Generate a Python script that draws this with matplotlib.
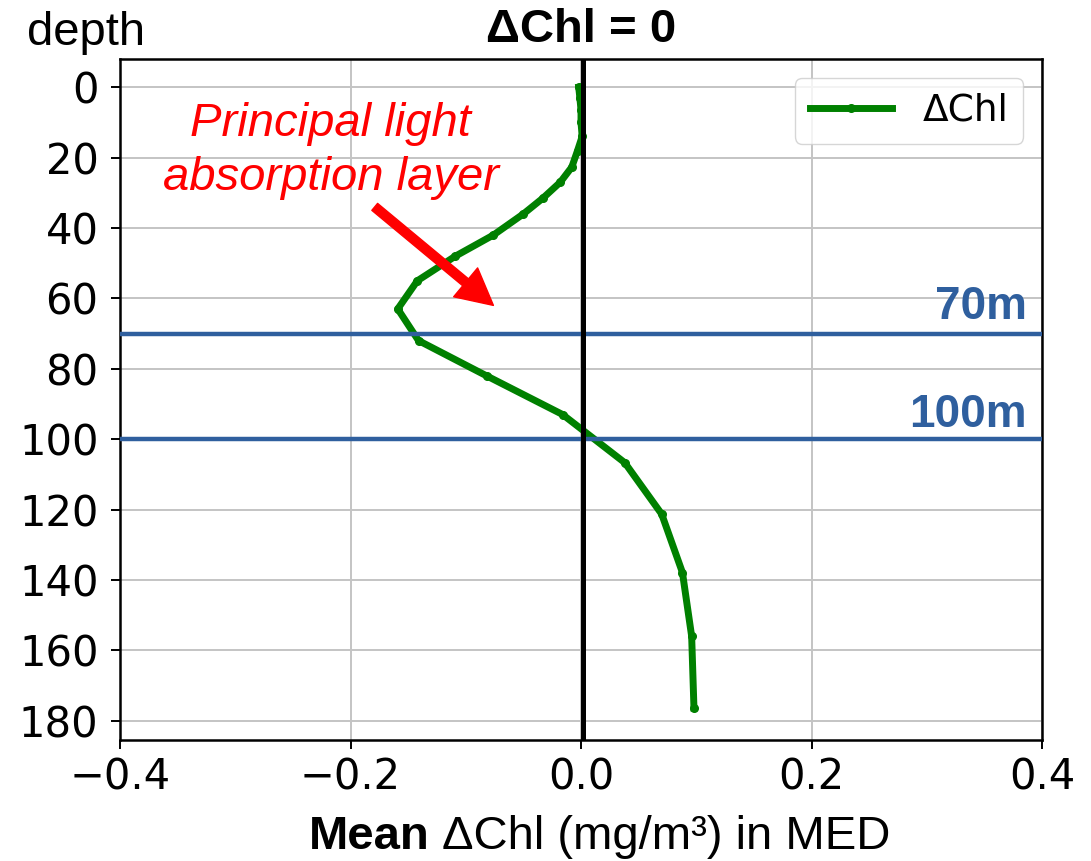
import matplotlib
matplotlib.use("Agg")
import matplotlib.pyplot as plt

# mean delta-Chl profile (mg/m3) vs depth (m)
depth = [0, 3, 6.5, 10, 14, 18, 22.7, 27, 31.5, 36, 42, 48, 55, 63,
         72, 82, 93, 106.7, 121.3, 137.9, 156, 176.4]
dchl = [-0.002, -0.001, 0.0, 0.0, 0.001, -0.003, -0.008, -0.018, -0.033,
        -0.050, -0.076, -0.109, -0.142, -0.159, -0.141, -0.082, -0.016,
        0.038, 0.070, 0.088, 0.096, 0.098]

ref_depths = [70, 100]
ref_labels = ["70m", "100m"]
ref_label_y = [66, 96.5]

xticks = [-0.4, -0.2, 0.0, 0.2, 0.4]
yticks = list(range(0, 181, 20))

ANNOT_FONT = ["Liberation Sans", "DejaVu Sans"]
BLUE = "#2f5f9e"

fig = plt.figure(figsize=(10.91, 8.61), dpi=100)
ax = fig.add_axes([0.1100, 0.1405, 0.8451, 0.7909])

ax.grid(True, color="#c4c4c4", linewidth=1.4)
ax.set_axisbelow(True)

ax.plot(dchl, depth, color="green", linewidth=5, marker="o",
        markersize=5.5, label="ΔChl")

ax.axvline(0.002, color="black", linewidth=3.6, zorder=4)

for d, lab, ly in zip(ref_depths, ref_labels, ref_label_y):
    ax.axhline(d, color=BLUE, linewidth=3.2, zorder=3)
    ax.text(0.387, ly, lab, color=BLUE, fontsize=33, fontweight="bold",
            family=ANNOT_FONT, ha="right", va="baseline")

ax.set_xlim(-0.4, 0.4)
ax.set_ylim(185.5, -8)
ax.set_xticks(xticks)
ax.set_yticks(yticks)
ax.tick_params(labelsize=30, length=6.5, width=1.4)
ax.tick_params(axis="y", pad=9)
ax.tick_params(axis="x", pad=5)
for s in ax.spines.values():
    s.set_linewidth(1.8)

ax.legend(loc="upper right", fontsize=27, handlelength=2.2,
          borderaxespad=0.5, framealpha=0.8)

# annotation text and arrow
ax.text(-0.217, 29.2, "Principal light\nabsorption layer", color="red",
        fontsize=34, style="italic", family=ANNOT_FONT, ha="center",
        va="baseline", linespacing=1.28)
ax.annotate("", xy=(-0.076, 62), xytext=(-0.179, 34),
            arrowprops=dict(facecolor="red", edgecolor="red", width=6.5,
                            headwidth=27, headlength=26))

fig.text(581 / 1091, 1 - 42 / 861, "ΔChl = 0", fontsize=34,
         fontweight="bold", family=ANNOT_FONT, ha="center", va="baseline")
fig.text(27 / 1091, 1 - 45 / 861, "depth", fontsize=34,
         family=ANNOT_FONT, ha="left", va="baseline")
fig.text(430 / 1091, 1 - 849 / 861, "Mean", fontsize=34, fontweight="bold",
         family=ANNOT_FONT, ha="right", va="baseline")
fig.text(442 / 1091, 1 - 849 / 861, "ΔChl (mg/m³) in MED", fontsize=34,
         family=ANNOT_FONT, ha="left", va="baseline")

fig.savefig("out.png", dpi=100)
